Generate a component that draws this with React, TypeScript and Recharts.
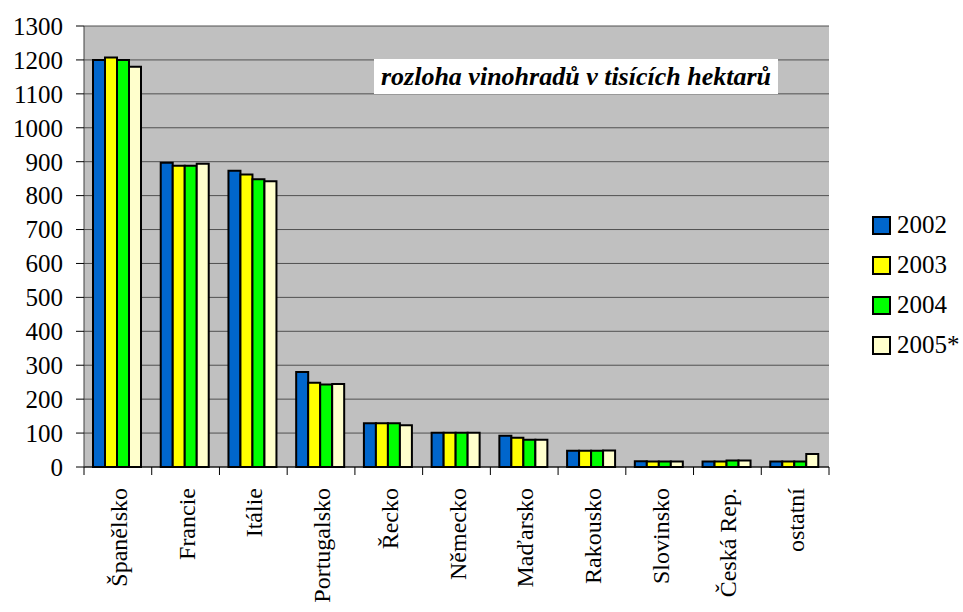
import { BarChart, Bar, XAxis, YAxis, CartesianGrid } from 'recharts';

const countries = ['Španělsko', 'Francie', 'Itálie', 'Portugalsko', 'Řecko', 'Německo', 'Maďarsko', 'Rakousko', 'Slovinsko', 'Česká Rep.', 'ostatní'];
const y2002 = [1200, 897, 873, 280, 129, 101, 92, 48, 17, 16, 16];
const y2003 = [1207, 888, 862, 248, 129, 101, 86, 48, 16, 16, 16];
const y2004 = [1200, 888, 848, 243, 129, 101, 80, 48, 16, 19, 16];
const y2005 = [1180, 894, 842, 245, 123, 101, 80, 49, 16, 19, 38];
const yTicks = [0, 100, 200, 300, 400, 500, 600, 700, 800, 900, 1000, 1100, 1200, 1300];

const series = [
  { key: 'y2002', name: '2002', color: '#0066CC' },
  { key: 'y2003', name: '2003', color: '#FFFF00' },
  { key: 'y2004', name: '2004', color: '#00FF00' },
  { key: 'y2005', name: '2005*', color: '#FFFFCC' },
];

const data = countries.map((c, i) => ({
  name: c,
  y2002: y2002[i],
  y2003: y2003[i],
  y2004: y2004[i],
  y2005: y2005[i],
}));

const FONT = '"Liberation Serif", "Times New Roman", serif';
const W = 963;
const H = 612;
const PLOT_LEFT = 84;
const PLOT_RIGHT = 829;
const PLOT_TOP = 26;
const PLOT_BOTTOM = 467;
const STEP = (PLOT_RIGHT - PLOT_LEFT) / countries.length;

function CategoryTick(props: any) {
  const { x, payload, index } = props;
  const last = index === countries.length - 1;
  return (
    <g>
      <line x1={x - STEP / 2} x2={x - STEP / 2} y1={PLOT_BOTTOM} y2={PLOT_BOTTOM + 8} stroke="#000" />
      {last && <line x1={x + STEP / 2} x2={x + STEP / 2} y1={PLOT_BOTTOM} y2={PLOT_BOTTOM + 8} stroke="#000" />}
      <text
        x={0}
        y={0}
        transform={`translate(${x + 9}, ${PLOT_BOTTOM + 21}) rotate(-90)`}
        textAnchor="end"
        fontFamily={FONT}
        fontSize={24}
        fill="#000"
      >
        {payload.value}
      </text>
    </g>
  );
}

// legend drawn outside the svg so the plot keeps its full width
function LegendBox() {
  return (
    <div style={{ position: 'absolute', left: 872, top: 205, fontFamily: FONT, fontSize: 25, color: '#000' }}>
      {series.map((s) => (
        <div key={s.key} style={{ display: 'flex', alignItems: 'center', height: 40 }}>
          <span
            style={{
              display: 'inline-block',
              width: 15,
              height: 15,
              background: s.color,
              border: '2px solid #000',
              marginRight: 6,
            }}
          />
          <span>{s.name}</span>
        </div>
      ))}
    </div>
  );
}

export default function App() {
  return (
    <div style={{ position: 'absolute', left: 0, top: 0, width: W, height: H, background: '#fff' }}>
      <BarChart
        width={W}
        height={H}
        data={data}
        margin={{ top: PLOT_TOP, right: W - PLOT_RIGHT, left: 0, bottom: 0 }}
        barGap={0}
        barCategoryGap={9}
      >
        <CartesianGrid vertical={false} fill="#C0C0C0" stroke="#505050" />
        <XAxis
          dataKey="name"
          height={H - PLOT_BOTTOM}
          interval={0}
          tickLine={false}
          axisLine={{ stroke: '#000' }}
          tick={<CategoryTick />}
        />
        <YAxis
          width={PLOT_LEFT}
          domain={[0, 1300]}
          ticks={yTicks}
          interval={0}
          tickSize={8}
          tickMargin={13}
          axisLine={{ stroke: '#404040' }}
          tickLine={{ stroke: '#000' }}
          tick={{ fontFamily: FONT, fontSize: 25, fill: '#000' }}
        />
        <YAxis
          yAxisId="border"
          orientation="right"
          width={0}
          tick={false}
          tickLine={false}
          axisLine={{ stroke: '#808080', strokeWidth: 2 }}
        />
        {series.map((s) => (
          <Bar
            key={s.key}
            dataKey={s.key}
            name={s.name}
            fill={s.color}
            stroke="#000"
            strokeWidth={2}
            isAnimationActive={false}
          />
        ))}
      </BarChart>
      <LegendBox />
      <div
        style={{
          position: 'absolute',
          left: 374,
          top: 59,
          width: 404,
          height: 35,
          background: '#fff',
          fontFamily: FONT,
          fontSize: 26,
          fontStyle: 'italic',
          fontWeight: 'bold',
          lineHeight: '35px',
          textAlign: 'center',
          whiteSpace: 'nowrap',
          color: '#000',
        }}
      >
        rozloha vinohradů v tisících hektarů
      </div>
    </div>
  );
}
